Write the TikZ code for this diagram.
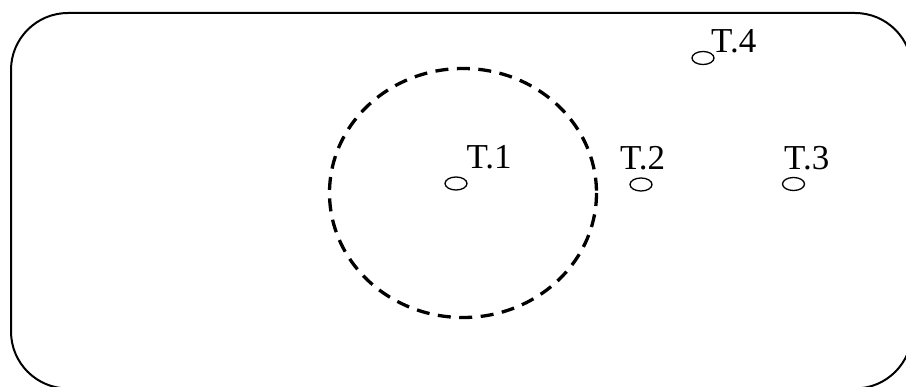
\documentclass[tikz,border=0pt]{standalone}
\usepackage{fontspec}
\setmainfont{Liberation Serif}
\usetikzlibrary{shapes.geometric}
\tikzset{
  frame/.style={draw, line width=2pt, rounded corners=57pt},
  zone/.style={draw, line width=3.3pt, dash pattern=on 13pt off 8.5pt},
  pt/.style={draw, ellipse, line width=1.3pt, minimum width=22pt, minimum height=13pt, inner sep=0pt},
  lbl/.style={anchor=base west, inner sep=0pt, font=\fontsize{35}{40}\selectfont}
}
\begin{document}
\begin{tikzpicture}[x=1pt,y=-1pt]
\useasboundingbox (0,0) rectangle (906,387);
\draw[frame] (11,13) rectangle (912,388.5);
\draw[zone] (463,193) ellipse [x radius=133.5, y radius=124.5];
\node[pt] (p1) at (456,183.5) {};
\node[pt] (p2) at (641,184.5) {};
\node[pt] (p3) at (793.5,184) {};
\node[pt] (p4) at (703,58) {};
\node[lbl] (l1) at (466.5,169) {T.1};
\node[lbl] (l2) at (620,170) {T.2};
\node[lbl] (l3) at (784,170) {T.3};
\node[lbl] (l4) at (711,53) {T.4};
\end{tikzpicture}
\end{document}
